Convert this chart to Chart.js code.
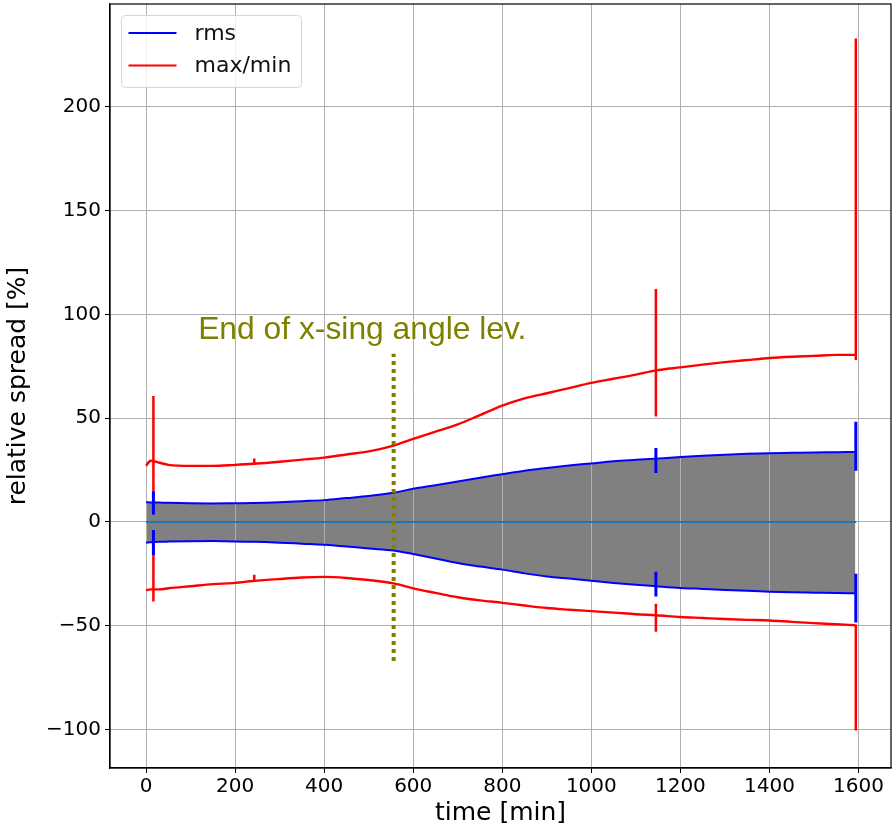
<!DOCTYPE html>
<html>
<head>
<meta charset="utf-8">
<script src="https://cdn.jsdelivr.net/npm/chart.js@4.4.1/dist/chart.umd.min.js"></script>
<style>
    html, body { margin: 0; padding: 0; background: #fff; }
    #spread-chart { display: block; }
</style>
</head>
<body>
<canvas id="spread-chart" width="894" height="829"></canvas>
<script>
// sample times [min]
const time = [0, 10, 30, 50, 100, 150, 200, 240, 300, 350, 400, 450, 500, 556, 600, 650, 700, 750, 800, 850,
              900, 950, 1000, 1050, 1100, 1145, 1200, 1250, 1300, 1350, 1400, 1450, 1500, 1550, 1593];

// relative spread [%]
const maxSpread = [27.0, 29.5, 28.5, 27.5, 27.0, 27.0, 27.5, 28.0, 29.0, 30.0, 31.0, 32.5, 34.0, 36.8, 40.0, 43.5, 47.0, 51.5, 56.0, 59.5,
                   62.0, 64.5, 67.0, 69.0, 71.0, 73.0, 74.5, 75.8, 77.0, 78.0, 79.0, 79.6, 80.0, 80.5, 80.5];
const minSpread = [-33.0, -32.5, -32.5, -32.0, -31.0, -30.0, -29.4, -28.5, -27.5, -26.8, -26.5, -27.0, -28.0, -29.6, -32.0, -34.2, -36.3, -37.8, -39.0, -40.3,
                   -41.5, -42.3, -43.0, -43.7, -44.5, -45.0, -45.8, -46.3, -46.8, -47.2, -47.5, -48.2, -48.8, -49.3, -49.8];
const rmsUpper = [9.5, 9.4, 9.3, 9.2, 9.0, 8.9, 9.0, 9.1, 9.5, 10.0, 10.5, 11.5, 12.5, 14.0, 16.0, 17.7, 19.5, 21.3, 23.0, 24.7,
                  26.0, 27.2, 28.2, 29.2, 29.9, 30.5, 31.3, 31.9, 32.4, 32.8, 33.1, 33.3, 33.5, 33.6, 33.7];
const rmsLower = [-10.0, -9.8, -9.6, -9.5, -9.3, -9.2, -9.5, -9.6, -10.0, -10.5, -11.0, -11.8, -12.8, -13.8, -15.5, -17.6, -19.8, -21.5, -23.0, -24.8,
                  -26.3, -27.3, -28.3, -29.4, -30.3, -31.0, -31.8, -32.3, -32.8, -33.2, -33.6, -33.9, -34.1, -34.3, -34.4];

// short spikes: [time, low, high]
const maxMinSpikes = [[16.5, 13, 60.7], [16.5, -38.4, -12], [243, 27.5, 30.5], [243, -29, -25.5],
                      [1145, 50.8, 112.3], [1145, -52.9, -39.5], [1594, 78, 233], [1594, -100.5, -49.5]];
const rmsSpikes = [[16.5, 3.4, 14.6], [16.5, -15.9, -3.9], [1145, 23.6, 35.6], [1145, -36, -24],
                   [1594, 24.7, 48.3], [1594, -48.5, -25]];

const zeroLineTime = [0, 1595];
const levelingEnd = 556;
const levelingRange = [-67, 81];
const annotationText = 'End of x-sing angle lev.';
const annotationPos = [117, 88];

const xTicks = [0, 200, 400, 600, 800, 1000, 1200, 1400, 1600];
const yTicks = [-100, -50, 0, 50, 100, 150, 200];

const TICK_FONT = { family: 'DejaVu Sans', size: 20 };
const TITLE_FONT = { family: 'DejaVu Sans', size: 25 };

function toPoints(xs, ys) {
    return xs.map((x, i) => ({ x: x, y: ys[i] }));
}

function spikePoints(spikes) {
    const pts = [];
    spikes.forEach(s => {
        pts.push({ x: s[0], y: s[1] });
        pts.push({ x: s[0], y: s[2] });
        pts.push({ x: s[0], y: null });
    });
    return pts;
}

// black box around the plot area
const framePlugin = {
    id: 'frame',
    afterDraw(chart) {
        const { ctx, chartArea: a } = chart;
        ctx.save();
        ctx.strokeStyle = '#000';
        ctx.lineWidth = 1.2;
        ctx.strokeRect(a.left, a.top, a.right - a.left, a.bottom - a.top);
        ctx.restore();
    }
};

// olive text label
const annotationPlugin = {
    id: 'annotation',
    afterDatasetsDraw(chart) {
        const { ctx, scales } = chart;
        ctx.save();
        ctx.font = '31.8px "Liberation Sans", Arial, sans-serif';
        ctx.fillStyle = '#808000';
        ctx.textAlign = 'left';
        ctx.textBaseline = 'alphabetic';
        ctx.fillText(annotationText, scales.x.getPixelForValue(annotationPos[0]), scales.y.getPixelForValue(annotationPos[1]));
        ctx.restore();
    }
};

// matplotlib-like legend in the upper left corner
const legendPlugin = {
    id: 'boxLegend',
    afterDraw(chart) {
        const { ctx, chartArea: a } = chart;
        const items = [
            { label: 'rms', color: '#0000ff' },
            { label: 'max/min', color: '#ff0000' }
        ];
        const x0 = a.left + 11.5, y0 = a.top + 11.5;
        ctx.save();
        ctx.beginPath();
        ctx.roundRect(x0, y0, 180, 72, 4);
        ctx.fillStyle = 'rgba(255,255,255,0.8)';
        ctx.fill();
        ctx.strokeStyle = '#d6d6d6';
        ctx.lineWidth = 1;
        ctx.stroke();
        ctx.font = '22px "DejaVu Sans"';
        ctx.textBaseline = 'middle';
        items.forEach((item, i) => {
            const y = y0 + 17.5 + i * 32.5;
            ctx.beginPath();
            ctx.moveTo(x0 + 7, y);
            ctx.lineTo(x0 + 55, y);
            ctx.strokeStyle = item.color;
            ctx.lineWidth = 2;
            ctx.stroke();
            ctx.fillStyle = '#111';
            ctx.fillText(item.label, x0 + 73, y + 1);
        });
        ctx.restore();
    }
};

const ctx = document.getElementById('spread-chart').getContext('2d');

new Chart(ctx, {
    type: 'line',
    data: {
        datasets: [
            {
                label: 'leveling end',
                data: [{ x: levelingEnd, y: levelingRange[0] }, { x: levelingEnd, y: levelingRange[1] }],
                borderColor: '#808000',
                borderWidth: 4,
                borderDash: [4, 4],
                pointRadius: 0
            },
            {
                label: 'zero',
                data: toPoints(zeroLineTime, [0, 0]),
                borderColor: '#1f77b4',
                borderWidth: 2,
                pointRadius: 0
            },
            {
                label: 'rms spikes',
                data: spikePoints(rmsSpikes),
                borderColor: '#0000ff',
                borderWidth: 3,
                pointRadius: 0,
                spanGaps: false
            },
            {
                label: 'rms',
                data: toPoints(time, rmsUpper),
                borderColor: '#0000ff',
                backgroundColor: '#808080',
                borderWidth: 2,
                pointRadius: 0,
                cubicInterpolationMode: 'monotone',
                fill: '+1'
            },
            {
                label: 'rms lower',
                data: toPoints(time, rmsLower),
                borderColor: '#0000ff',
                borderWidth: 2,
                pointRadius: 0,
                cubicInterpolationMode: 'monotone'
            },
            {
                label: 'max/min spikes',
                data: spikePoints(maxMinSpikes),
                borderColor: '#ff0000',
                borderWidth: 2.5,
                pointRadius: 0,
                spanGaps: false
            },
            {
                label: 'max/min',
                data: toPoints(time, maxSpread),
                borderColor: '#ff0000',
                borderWidth: 2.4,
                pointRadius: 0,
                cubicInterpolationMode: 'monotone'
            },
            {
                label: 'min',
                data: toPoints(time, minSpread),
                borderColor: '#ff0000',
                borderWidth: 2.4,
                pointRadius: 0,
                cubicInterpolationMode: 'monotone'
            }
        ]
    },
    options: {
        responsive: false,
        animation: false,
        layout: {
            padding: { left: 0, top: 4, right: 3, bottom: 0 }
        },
        scales: {
            x: {
                type: 'linear',
                min: -81,
                max: 1673,
                afterFit: scale => {
                    scale.height = 61;
                    scale.paddingLeft = 0;
                    scale.paddingRight = 0;
                },
                afterBuildTicks: scale => { scale.ticks = xTicks.map(v => ({ value: v })); },
                ticks: {
                    font: TICK_FONT,
                    color: '#000',
                    padding: 2,
                    maxRotation: 0,
                    autoSkip: false,
                    callback: v => String(v)
                },
                grid: {
                    color: '#b0b0b0',
                    lineWidth: 1,
                    tickColor: '#000',
                    tickLength: 5
                },
                border: { color: '#000', width: 1.2 },
                title: {
                    display: true,
                    text: 'time [min]',
                    font: TITLE_FONT,
                    color: '#000',
                    padding: { top: 0, bottom: 1 }
                }
            },
            y: {
                type: 'linear',
                min: -118.6,
                max: 249.6,
                afterFit: scale => {
                    scale.width = 110;
                    scale.paddingTop = 0;
                    scale.paddingBottom = 0;
                },
                afterBuildTicks: scale => { scale.ticks = yTicks.map(v => ({ value: v })); },
                ticks: {
                    font: TICK_FONT,
                    color: '#000',
                    padding: 4,
                    callback: v => String(v).replace('-', '\u2212')
                },
                grid: {
                    color: '#b0b0b0',
                    lineWidth: 1,
                    tickColor: '#000',
                    tickLength: 5
                },
                border: { color: '#000', width: 1.2 },
                title: {
                    display: true,
                    text: 'relative spread [%]',
                    font: TITLE_FONT,
                    color: '#000',
                    padding: { top: 3, bottom: 0 }
                }
            }
        },
        plugins: {
            legend: { display: false },
            tooltip: { enabled: false },
            filler: { drawTime: 'beforeDraw' }
        }
    },
    plugins: [annotationPlugin, legendPlugin, framePlugin]
});
</script>
</body>
</html>
